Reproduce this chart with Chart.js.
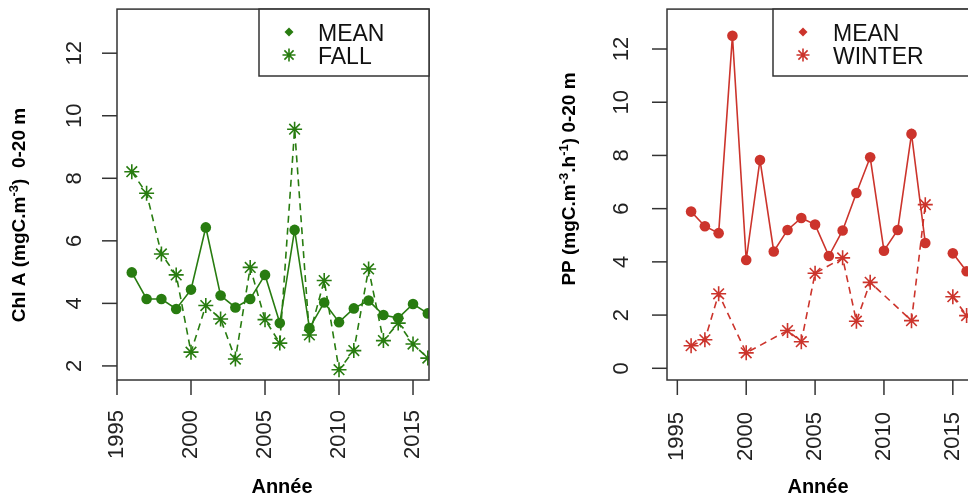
<!DOCTYPE html>
<html lang="fr">
<head>
<meta charset="UTF-8">
<title>Chl A et PP 0-20 m</title>
<style>
  html, body { margin: 0; padding: 0; background: #fff; overflow: hidden; width: 968px; height: 497px; }
  #wrap { position: relative; width: 968px; height: 497px; overflow: hidden; }
  canvas { position: absolute; top: 0; }
  #chl { left: 0; }
  #pp { left: 484px; }
</style>
</head>
<body>
<div id="wrap">
  <canvas id="chl" width="484" height="497" style="width:484px;height:497px"></canvas>
  <canvas id="pp" width="520" height="497" style="width:520px;height:497px"></canvas>
</div>

<script src="https://cdn.jsdelivr.net/npm/chart.js"></script>
<script>
// --- données ---
const years = [1996, 1997, 1998, 1999, 2000, 2001, 2002, 2003, 2004, 2005, 2006,
               2007, 2008, 2009, 2010, 2011, 2012, 2013, 2014, 2015, 2016];

// Chl A (mgC.m-3) 0-20 m
const chlMean = [4.99, 4.14, 4.14, 3.82, 4.44, 6.43, 4.25, 3.87, 4.14, 4.91, 3.37,
                 6.35, 3.21, 4.03, 3.40, 3.84, 4.09, 3.63, 3.53, 3.98, 3.68];
const chlFall = [8.21, 7.52, 5.58, 4.91, 2.44, 3.93, 3.50, 2.22, 5.15, 3.48, 2.73,
                 9.57, 2.99, 4.73, 1.88, 2.49, 5.10, 2.81, 3.37, 2.70, 2.25];

// PP (mgC.m-3.h-1) 0-20 m  (null = année manquante, ligne interrompue)
const ppMean = [5.89, 5.34, 5.08, 12.5, 4.07, 7.83, 4.39, 5.20, 5.65, 5.40, 4.22,
                5.18, 6.59, 7.93, 4.42, 5.20, 8.81, 4.71, null, 4.32, 3.65];
const winterYears = [1996, 1997, 1998, 2000, 2003, 2004, 2005, 2007, 2008, 2009,
                     2012, 2013, 2014, 2015, 2016];
const ppWinter = [0.85, 1.07, 2.80, 0.58, 1.42, 1.00, 3.57, 4.15, 1.77, 3.23,
                  1.79, 6.15, null, 2.69, 1.98];

const xTicks = [1995, 2000, 2005, 2010, 2015];
const chlTicks = [2, 4, 6, 8, 10, 12];
const ppTicks = [0, 2, 4, 6, 8, 10, 12];

const GREEN = '#287c10';
const RED = '#cc342c';
const FONT = '"Liberation Sans", Arial, Helvetica, sans-serif';

function pts(xs, ys) {
  return xs.map((x, i) => ({ x: x, y: ys[i] }));
}

// dessine les axes, titres et légende façon R
const rAxes = {
  id: 'rAxes',
  afterDatasetsDraw(chart, args, o) {
    const ctx = chart.ctx;
    const a = chart.chartArea;
    const xs = chart.scales.x, ys = chart.scales.y;
    ctx.save();

    // cadre
    ctx.strokeStyle = '#333';
    ctx.lineWidth = 1.5;
    ctx.strokeRect(a.left, a.top, a.right - a.left, a.bottom - a.top);

    ctx.fillStyle = '#222';
    ctx.font = '22px ' + FONT;

    // axe y
    o.yTicks.forEach(v => {
      const py = ys.getPixelForValue(v);
      ctx.beginPath();
      ctx.moveTo(a.left - 15, py);
      ctx.lineTo(a.left, py);
      ctx.stroke();
      ctx.save();
      ctx.translate(o.yLabelX, py);
      ctx.rotate(-Math.PI / 2);
      ctx.textAlign = 'center';
      ctx.textBaseline = 'middle';
      ctx.fillText(String(v), 0, 0);
      ctx.restore();
    });

    // axe x
    o.xTicks.forEach(v => {
      const px = xs.getPixelForValue(v);
      ctx.beginPath();
      ctx.moveTo(px, a.bottom);
      ctx.lineTo(px, a.bottom + 15);
      ctx.stroke();
      ctx.save();
      ctx.translate(px, o.xLabelTop);
      ctx.rotate(-Math.PI / 2);
      ctx.textAlign = 'right';
      ctx.textBaseline = 'middle';
      ctx.fillText(String(v), 0, 0);
      ctx.restore();
    });

    // titre x
    ctx.fillStyle = '#000';
    ctx.font = 'bold 20px ' + FONT;
    ctx.textAlign = 'center';
    ctx.textBaseline = 'middle';
    ctx.fillText('Année', o.xTitleX, o.xTitleY);

    // titre y avec exposants
    const big = 'bold 19px ' + FONT, small = 'bold 13px ' + FONT;
    let total = 0;
    o.yTitle.forEach(s => { ctx.font = s.sup ? small : big; total += ctx.measureText(s.t).width; });
    ctx.save();
    ctx.translate(o.yTitleX, o.yTitleY);
    ctx.rotate(-Math.PI / 2);
    ctx.textAlign = 'left';
    ctx.textBaseline = 'middle';
    let cx = -total / 2;
    o.yTitle.forEach(s => {
      ctx.font = s.sup ? small : big;
      ctx.fillText(s.t, cx, s.sup ? -6 : 0);
      cx += ctx.measureText(s.t).width;
    });
    ctx.restore();

    // légende
    const lg = o.legend;
    ctx.fillStyle = '#fff';
    ctx.fillRect(lg.left, a.top, a.right - lg.left, lg.bottom - a.top);
    ctx.strokeStyle = '#333';
    ctx.lineWidth = 1.5;
    ctx.strokeRect(lg.left, a.top, a.right - lg.left, lg.bottom - a.top);
    chart.data.datasets.forEach((ds, i) => {
      const my = lg.rows[i];
      ctx.fillStyle = ds.borderColor;
      ctx.strokeStyle = ds.borderColor;
      if (ds.pointStyle === 'star') {
        const r = 6.5;
        ctx.lineWidth = 1.6;
        ctx.beginPath();
        ctx.moveTo(lg.markX - r, my); ctx.lineTo(lg.markX + r, my);
        ctx.moveTo(lg.markX, my - r); ctx.lineTo(lg.markX, my + r);
        const d = r * 0.707;
        ctx.moveTo(lg.markX - d, my - d); ctx.lineTo(lg.markX + d, my + d);
        ctx.moveTo(lg.markX - d, my + d); ctx.lineTo(lg.markX + d, my - d);
        ctx.stroke();
      } else {
        const r = 4.5;
        ctx.beginPath();
        ctx.moveTo(lg.markX, my - r);
        ctx.lineTo(lg.markX + r, my);
        ctx.lineTo(lg.markX, my + r);
        ctx.lineTo(lg.markX - r, my);
        ctx.closePath();
        ctx.fill();
      }
      ctx.fillStyle = '#111';
      ctx.font = '23px ' + FONT;
      ctx.textAlign = 'left';
      ctx.textBaseline = 'alphabetic';
      ctx.fillText(ds.label, lg.textX, my + 9);
    });

    ctx.restore();
  }
};

function makeChart(id, cfg) {
  return new Chart(document.getElementById(id), {
    type: 'line',
    data: { datasets: cfg.datasets },
    options: {
      responsive: false,
      animation: false,
      events: [],
      layout: { padding: cfg.padding },
      scales: {
        x: { type: 'linear', display: false, min: cfg.xMin, max: cfg.xMax },
        y: { type: 'linear', display: false, min: cfg.yMin, max: cfg.yMax }
      },
      plugins: {
        legend: { display: false },
        tooltip: { enabled: false },
        rAxes: cfg.axes
      }
    },
    plugins: [rAxes]
  });
}

function meanSet(label, xs, ys, color) {
  return {
    label: label, data: pts(xs, ys),
    borderColor: color, backgroundColor: color,
    borderWidth: 1.6, pointStyle: 'circle', pointRadius: 5.3,
    pointBorderWidth: 0, pointBackgroundColor: color,
    spanGaps: false, tension: 0, clip: 0
  };
}
function seasonSet(label, xs, ys, color) {
  return {
    label: label, data: pts(xs, ys),
    borderColor: color, backgroundColor: color,
    borderWidth: 1.6, borderDash: [7, 5], pointStyle: 'star', pointRadius: 7.5,
    pointBorderWidth: 1.6, pointBorderColor: color,
    spanGaps: false, tension: 0, clip: 0
  };
}

makeChart('chl', {
  datasets: [
    meanSet('MEAN', years, chlMean, GREEN),
    seasonSet('FALL', years, chlFall, GREEN)
  ],
  padding: { left: 117, top: 9, right: 55, bottom: 117 },
  xMin: 1995, xMax: 2016.08, yMin: 1.55, yMax: 13.41,
  axes: {
    yTicks: chlTicks, xTicks: xTicks,
    yLabelX: 75, xLabelTop: 410,
    xTitleX: 282, xTitleY: 487,
    yTitleX: 20, yTitleY: 215,
    yTitle: [{ t: 'Chl A (mgC.m' }, { t: '-3', sup: true }, { t: ')  0-20 m' }],
    legend: { left: 259, bottom: 76, markX: 289, textX: 318, rows: [32, 55] }
  }
});

makeChart('pp', {
  datasets: [
    meanSet('MEAN', years, ppMean, RED),
    seasonSet('WINTER', winterYears, ppWinter, RED)
  ],
  padding: { left: 183, top: 9, right: 25, bottom: 117 },
  xMin: 1994.25, xMax: 2016.9, yMin: -0.44, yMax: 13.5,
  axes: {
    yTicks: ppTicks, xTicks: xTicks,
    yLabelX: 138, xLabelTop: 412,
    xTitleX: 334, xTitleY: 487,
    yTitleX: 86, yTitleY: 179,
    yTitle: [{ t: 'PP (mgC.m' }, { t: '-3', sup: true }, { t: '.h' }, { t: '-1', sup: true }, { t: ') 0-20 m' }],
    legend: { left: 289, bottom: 76, markX: 319, textX: 349, rows: [32, 55] }
  }
});
</script>
</body>
</html>
